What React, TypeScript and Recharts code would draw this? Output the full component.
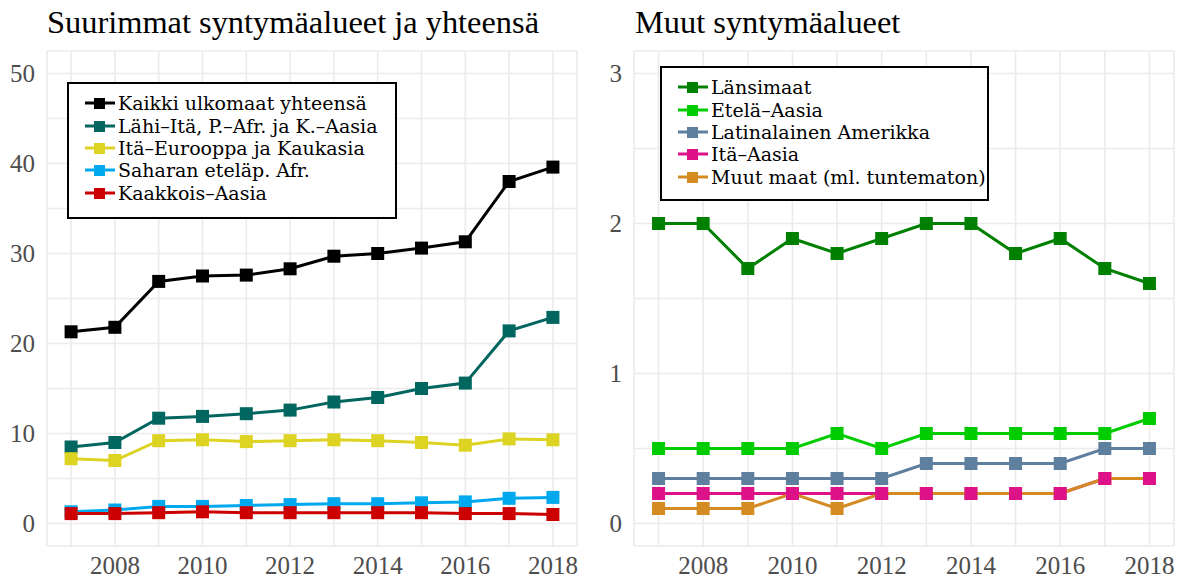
import { LineChart, Line, XAxis, YAxis, CartesianGrid } from "recharts"

const YEARS = [2007, 2008, 2009, 2010, 2011, 2012, 2013, 2014, 2015, 2016, 2017, 2018]
const X_TICKS = YEARS

// left panel
const kaikki = [21.3, 21.8, 26.9, 27.5, 27.6, 28.3, 29.7, 30.0, 30.6, 31.3, 38.0, 39.6]
const lahiIta = [8.5, 9.0, 11.7, 11.9, 12.2, 12.6, 13.5, 14.0, 15.0, 15.6, 21.4, 22.9]
const itaEurooppa = [7.2, 7.0, 9.2, 9.3, 9.1, 9.2, 9.3, 9.2, 9.0, 8.7, 9.4, 9.3]
const saharan = [1.3, 1.5, 1.9, 1.9, 2.0, 2.1, 2.2, 2.2, 2.3, 2.4, 2.8, 2.9]
const kaakkois = [1.1, 1.1, 1.2, 1.3, 1.2, 1.2, 1.2, 1.2, 1.2, 1.1, 1.1, 1.0]
const LEFT_Y_TICKS = [0, 5, 10, 15, 20, 25, 30, 35, 40, 45, 50]

// right panel
const lansimaat = [2.0, 2.0, 1.7, 1.9, 1.8, 1.9, 2.0, 2.0, 1.8, 1.9, 1.7, 1.6]
const etelaAasia = [0.5, 0.5, 0.5, 0.5, 0.6, 0.5, 0.6, 0.6, 0.6, 0.6, 0.6, 0.7]
const latinalainen = [0.3, 0.3, 0.3, 0.3, 0.3, 0.3, 0.4, 0.4, 0.4, 0.4, 0.5, 0.5]
const itaAasia = [0.2, 0.2, 0.2, 0.2, 0.2, 0.2, 0.2, 0.2, 0.2, 0.2, 0.3, 0.3]
const muut = [0.1, 0.1, 0.1, 0.2, 0.1, 0.2, 0.2, 0.2, 0.2, 0.2, 0.3, 0.3]
const RIGHT_Y_TICKS = [0, 0.5, 1, 1.5, 2, 2.5, 3]

type Series = { key: string; label: string; color: string; values: number[] }

const LEFT_SERIES: Series[] = [
  { key: "kaikki", label: "Kaikki ulkomaat yhteensä", color: "#000000", values: kaikki },
  { key: "lahi", label: "Lähi–Itä, P.–Afr. ja K.–Aasia", color: "#00665f", values: lahiIta },
  { key: "itae", label: "Itä–Eurooppa ja Kaukasia", color: "#ddd322", values: itaEurooppa },
  { key: "sah", label: "Saharan eteläp. Afr.", color: "#00a9ee", values: saharan },
  { key: "kaak", label: "Kaakkois–Aasia", color: "#cc0000", values: kaakkois },
]

const RIGHT_SERIES: Series[] = [
  { key: "lans", label: "Länsimaat", color: "#008000", values: lansimaat },
  { key: "etela", label: "Etelä–Aasia", color: "#00cc00", values: etelaAasia },
  { key: "latin", label: "Latinalainen Amerikka", color: "#5f7f9f", values: latinalainen },
  { key: "itaa", label: "Itä–Aasia", color: "#dd1188", values: itaAasia },
  { key: "muut", label: "Muut maat (ml. tuntematon)", color: "#d48b22", values: muut },
]

const FONT = "'Liberation Serif', 'DejaVu Serif', serif"
const LEGEND_FONT = "'DejaVu Serif', serif"
const GRID = "#ebebeb"

function toRows(series: Series[]) {
  return YEARS.map((year, i) => {
    const row: Record<string, number> = { year }
    series.forEach(s => { row[s.key] = s.values[i] })
    return row
  })
}

const squareDot = (color: string) => (p: any) =>
  <rect key={p.index} x={p.cx - 6.5} y={p.cy - 6.5} width={13} height={13} fill={color} />

function Legend({ series, style }: { series: Series[]; style: React.CSSProperties }) {
  return <div style={{ position: "absolute", background: "#fff", border: "2px solid #000",
    boxSizing: "border-box", padding: "8px 0 0 16px", ...style }}>
    {series.map(s => (
      <div key={s.key} style={{ display: "flex", alignItems: "center", height: 22.4 }}>
        <svg width={30} height={14} style={{ marginRight: 3, flexShrink: 0 }}>
          <line x1={0} x2={30} y1={7} y2={7} stroke={s.color} strokeWidth={3} />
          <rect x={9} y={2} width={11} height={11} fill={s.color} />
        </svg>
        <span style={{ fontSize: 19, fontFamily: LEGEND_FONT, color: "#000", lineHeight: "22px",
          whiteSpace: "nowrap" }}>{s.label}</span>
      </div>
    ))}
  </div>
}

function Panel({ series, pointOrder, yTicks, yDomain, width, yAxisWidth, rightMargin }: {
  series: Series[]; pointOrder: string[]; yTicks: number[]; yDomain: [number, number]
  width: number; yAxisWidth: number; rightMargin: number
}) {
  const rows = toRows(series)
  const tickStyle = { fontSize: 25, fill: "#4d4d4d", fontFamily: FONT, style: { fontFamily: FONT } }
  return <LineChart width={width} height={580} data={rows} style={{ fontFamily: FONT }}
      margin={{ top: 51, right: rightMargin, bottom: 4, left: 0 }}>
      <CartesianGrid stroke={GRID} strokeWidth={1.6} />
      <XAxis type="number" dataKey="year" domain={[2006.45, 2018.55]} ticks={X_TICKS}
        interval={0} allowDataOverflow axisLine={false} tickLine={false} tickMargin={4} height={30}
        tick={tickStyle} tickFormatter={(v: number) => (v % 2 === 0 ? String(v) : "")} />
      <YAxis type="number" domain={yDomain} ticks={yTicks} interval={0} allowDataOverflow
        axisLine={false} tickLine={false} width={yAxisWidth} tickMargin={6} tick={tickStyle}
        tickFormatter={(v: number) => (yTicks.indexOf(v) % 2 === 0 ? String(v) : "")} />
      {series.map(s => (
        <Line key={"l" + s.key} dataKey={s.key} stroke={s.color} strokeWidth={3}
          dot={false} activeDot={false} isAnimationActive={false} />
      ))}
      {pointOrder.map(k => {
        const s = series.find(x => x.key === k)!
        return <Line key={"p" + k} dataKey={k} stroke="none" dot={squareDot(s.color)}
          activeDot={false} isAnimationActive={false} />
      })}
    </LineChart>
}

export default function App() {
  const titleStyle: React.CSSProperties = { position: "absolute", top: 4, fontSize: 32.4,
    fontFamily: FONT, color: "#000", whiteSpace: "nowrap" }
  return <div style={{ position: "fixed", left: 0, top: 0, width: 1186, height: 580, background: "#fff",
      fontFamily: FONT }}>
      <div style={{ ...titleStyle, left: 47 }}>Suurimmat syntymäalueet ja yhteensä</div>
      <div style={{ ...titleStyle, left: 635 }}>Muut syntymäalueet</div>
      <div style={{ position: "absolute", left: 0, top: 0 }}>
        <Panel series={LEFT_SERIES} pointOrder={["kaikki", "lahi", "itae", "sah", "kaak"]}
          yTicks={LEFT_Y_TICKS} yDomain={[-2.5, 52.5]} width={593} yAxisWidth={47} rightMargin={16} />
      </div>
      <div style={{ position: "absolute", left: 593, top: 0 }}>
        <Panel series={RIGHT_SERIES} pointOrder={["lans", "etela", "latin", "muut", "itaa"]}
          yTicks={RIGHT_Y_TICKS} yDomain={[-0.15, 3.15]} width={593} yAxisWidth={41} rightMargin={12} />
      </div>
      <Legend series={LEFT_SERIES} style={{ left: 67, top: 82, width: 330, height: 137 }} />
      <Legend series={RIGHT_SERIES} style={{ left: 660, top: 66, width: 329, height: 135 }} />
    </div>
}
